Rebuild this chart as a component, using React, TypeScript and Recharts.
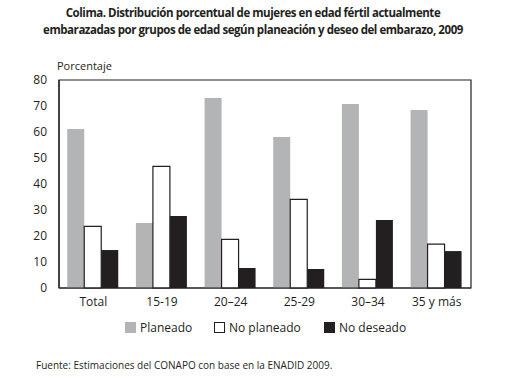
import { BarChart, Bar, XAxis, YAxis, ReferenceArea } from "recharts";

const grupos = ["Total", "15-19", "20–24", "25-29", "30–34", "35 y más"];
const planeado = [61.2, 25.0, 73.1, 58.1, 70.8, 68.5];
const noPlaneado = [23.7, 46.8, 18.7, 34.1, 3.3, 16.9];
const noDeseado = [14.6, 27.7, 7.7, 7.3, 26.2, 14.2];
const yTicks = [0, 10, 20, 30, 40, 50, 60, 70, 80];

const ink = "#231f20";
const gris = "#b3b4b6";
const font = "'Open Sans', 'Noto Sans', sans-serif";

const data = grupos.map((g, i) => ({
  grupo: g,
  planeado: planeado[i],
  noPlaneado: noPlaneado[i],
  noDeseado: noDeseado[i]
}));

const legendItems = [
  { label: "Planeado", fill: gris, stroke: gris, x: 125 },
  { label: "No planeado", fill: "#fff", stroke: ink, x: 214 },
  { label: "No deseado", fill: ink, stroke: ink, x: 324 }
];

export default function App() {
  return (
    <div style={{ position: "absolute", left: 0, top: 0, width: 506, height: 380, background: "#fff", fontFamily: font, color: ink }}>
      <div style={{ position: "absolute", top: 4, left: 0, width: 506, textAlign: "center", fontWeight: 700, fontSize: 11.5, letterSpacing: -0.45, lineHeight: "17px" }}>
        Colima. Distribución porcentual de mujeres en edad fértil actualmente
        <br />
        embarazadas por grupos de edad según planeación y deseo del embarazo, 2009
      </div>
      <div style={{ position: "absolute", top: 58, left: 57, fontSize: 11 }}>Porcentaje</div>
      <BarChart
        width={506}
        height={380}
        data={data}
        margin={{ top: 80, right: 35, left: 0, bottom: 62 }}
        barCategoryGap="12%"
        barGap={0}
      >
        <ReferenceArea y1={0} y2={80} fill="none" stroke={ink} strokeWidth={1.2} ifOverflow="visible" />
        <XAxis
          dataKey="grupo"
          height={30}
          axisLine={{ stroke: ink, strokeWidth: 1.2 }}
          tickLine={false}
          tick={{ fill: ink, fontSize: 12, fontFamily: font }}
          tickMargin={3}
          interval={0}
        />
        <YAxis
          width={59}
          domain={[0, 80]}
          ticks={yTicks}
          axisLine={{ stroke: ink, strokeWidth: 1.2 }}
          tickLine={false}
          tick={{ fill: ink, fontSize: 12, fontFamily: font }}
          tickMargin={6}
        />
        <Bar dataKey="planeado" fill={gris} isAnimationActive={false} />
        <Bar dataKey="noPlaneado" fill="#fff" stroke={ink} strokeWidth={1.2} isAnimationActive={false} />
        <Bar dataKey="noDeseado" fill={ink} isAnimationActive={false} />
      </BarChart>
      {legendItems.map((it) => (
        <div key={it.label} style={{ position: "absolute", top: 319, left: it.x, display: "flex", alignItems: "center", fontSize: 12 }}>
          <span style={{ display: "inline-block", width: 9, height: 9, background: it.fill, border: `1px solid ${it.stroke}`, marginRight: 4 }} />
          {it.label}
        </div>
      ))}
      <div style={{ position: "absolute", top: 358, left: 36, fontSize: 10 }}>
        Fuente: Estimaciones del CONAPO con base en la ENADID 2009.
      </div>
    </div>
  );
}
